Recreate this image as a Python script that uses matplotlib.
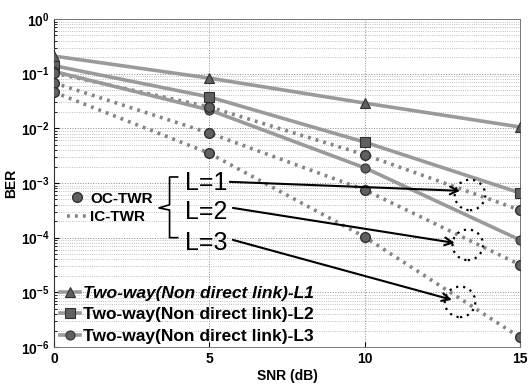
import matplotlib
matplotlib.use("Agg")
import matplotlib.pyplot as plt
from matplotlib.lines import Line2D

plt.rcParams['font.family'] = ['Liberation Sans', 'DejaVu Sans']
plt.rcParams['mathtext.fontset'] = 'custom'
plt.rcParams['mathtext.rm'] = 'Liberation Sans:bold'
plt.rcParams['mathtext.default'] = 'rm'

snr = [0, 5, 10, 15]
two_way_l1 = [0.21, 0.083, 0.029, 0.0106]
two_way_l2 = [0.14, 0.0375, 0.0056, 6.6e-4]
two_way_l3 = [0.11, 0.0217, 0.0019, 9.1e-5]
ic_l1 = [0.103, 0.0246, 0.0033, 3.2e-4]
ic_l2 = [0.068, 0.0082, 7.5e-4, 3.2e-5]
ic_l3 = [0.046, 0.0035, 1.03e-4, 1.5e-6]
oc_l1 = [0.103, 0.0246, 0.0033, 3.2e-4]
oc_l2 = [0.068, 0.0082, 7.5e-4, 3.2e-5]
oc_l3 = [0.046, 0.0035, 1.03e-4, 1.5e-6]

ber_ticks = [1e-6, 1e-5, 1e-4, 1e-3, 1e-2, 1e-1, 1]
ber_tick_labels = [r'$10^{-6}$', r'$10^{-5}$', r'$10^{-4}$', r'$10^{-3}$',
                   r'$10^{-2}$', r'$10^{-1}$', r'$10^{0}$']

two_way_labels = ['Two-way(Non direct link)-L1', 'Two-way(Non direct link)-L2',
                  'Two-way(Non direct link)-L3']
callout_labels = ['L=1', 'L=2', 'L=3']
callout_text_x = [4.22, 4.22, 4.22]
callout_text_y = [1.0e-3, 3.0e-4, 8.0e-5]
arrow_start_x = [5.66, 5.76, 5.76]
arrow_start_y = [1.05e-3, 3.5e-4, 9.1e-5]
arrow_end_x = [13.07, 12.9, 12.81]
arrow_end_y = [7.2e-4, 8.0e-5, 7.3e-6]
ring_x = [13.39, 13.32, 13.07]
ring_y = [6.05e-4, 7.4e-5, 6.7e-6]

fig = plt.figure(figsize=(5.32, 3.85), dpi=100)
ax = fig.add_axes([0.1015, 0.0987, 0.8759, 0.8519])
ax.set_yscale('log')
ax.set_xlim(0, 15)
ax.set_ylim(1e-6, 1)
ax.set_yticks(ber_ticks)
ax.set_yticklabels(ber_tick_labels)

ax.grid(True, which='major', linestyle=':', color='#888888', linewidth=0.7)
ax.grid(True, which='minor', axis='y', linestyle=':', color='#aaaaaa', linewidth=0.6)

line_col = '#9a9a9a'
mk_face = '#606060'
mk_edge = '#303030'

# IC-TWR dotted lines
dot_style = (0, (0.8, 1.4))
for vals in (ic_l1, ic_l2, ic_l3):
    ax.plot(snr, vals, linestyle=dot_style, color='#858585', linewidth=2.6,
            dash_capstyle='butt', zorder=3)

# Two-way solid lines
h_tw = []
for vals, mk, lab in zip((two_way_l1, two_way_l2, two_way_l3), ('^', 's', 'o'), two_way_labels):
    h, = ax.plot(snr, vals, linestyle='-', color=line_col, linewidth=2.6,
                 marker=mk, markersize=6.5, markerfacecolor=mk_face,
                 markeredgecolor=mk_edge, markeredgewidth=0.8, label=lab, zorder=4)
    h_tw.append(h)

# OC-TWR circle markers
for vals in (oc_l1, oc_l2, oc_l3):
    ax.plot(snr, vals, linestyle='none', marker='o', markersize=7,
            markerfacecolor=mk_face, markeredgecolor=mk_edge, markeredgewidth=1.0, zorder=5)

# Callout arrows, labels, dotted rings
for lab, tx, ty, sx, sy, ex, ey in zip(callout_labels, callout_text_x, callout_text_y,
                                        arrow_start_x, arrow_start_y, arrow_end_x, arrow_end_y):
    ax.text(tx, ty, lab, fontsize=18, ha='left', va='center', color='black', zorder=7)
    ax.annotate('', xy=(ex, ey), xytext=(sx, sy),
                arrowprops=dict(arrowstyle='->', color='black', lw=1.5,
                                mutation_scale=14, shrinkA=0, shrinkB=0), zorder=7)
ax.scatter(ring_x, ring_y, s=22 ** 2, facecolors='none', edgecolors='black',
           linewidths=1.6, linestyles=(0, (1, 2.2)), zorder=6)

# bracket
bx0, bx1, bxn = 3.72, 3.98, 3.38
btop, bbot = 1.29e-3, 1.0e-4
bmid_up, bmid, bmid_dn = 4.0e-4, 3.5e-4, 3.2e-4
ax.plot([bx1, bx0, bx0, bxn, bx0, bx0, bx1],
        [btop, btop, bmid_up, bmid, bmid_dn, bbot, bbot],
        color='black', linewidth=1.2, zorder=7)

# legend OC/IC
oc_handle = Line2D([], [], linestyle='none', marker='o', markersize=7,
                   markerfacecolor=mk_face, markeredgecolor=mk_edge)
ic_handle = Line2D([], [], linestyle=dot_style, color='#858585', linewidth=2.6)
leg1 = ax.legend([oc_handle, ic_handle], ['OC-TWR', 'IC-TWR'], loc='upper left',
                 bbox_to_anchor=(0.028, 0.474), frameon=False,
                 prop={'weight': 'bold', 'size': 11}, handlelength=1.3,
                 handletextpad=0.2, labelspacing=0.3, borderaxespad=0, borderpad=0)
ax.add_artist(leg1)

# legend two-way
leg2 = ax.legend(handles=h_tw, loc='lower left', bbox_to_anchor=(0.013, 0.01),
                 frameon=False, prop={'weight': 'bold', 'size': 12.5},
                 handlelength=1.15, handletextpad=0.17, labelspacing=0.36,
                 borderaxespad=0, borderpad=0)
leg2.get_texts()[0].set_fontstyle('italic')

ax.set_xticks([0, 5, 10, 15])
ax.tick_params(axis='both', which='both', direction='in', labelsize=10)
ax.tick_params(axis='y', which='minor', labelleft=False)
for t in ax.get_xticklabels():
    t.set_fontweight('bold')
ax.set_xlabel('SNR (dB)', fontsize=10, fontweight='bold', labelpad=2)
ax.set_ylabel('BER', fontsize=10, fontweight='bold', labelpad=2)

for s in ('top', 'right', 'bottom'):
    ax.spines[s].set_color('#777777')
    ax.spines[s].set_linewidth(0.7)
ax.spines['left'].set_color('#333333')

fig.savefig('out.png', dpi=100)
